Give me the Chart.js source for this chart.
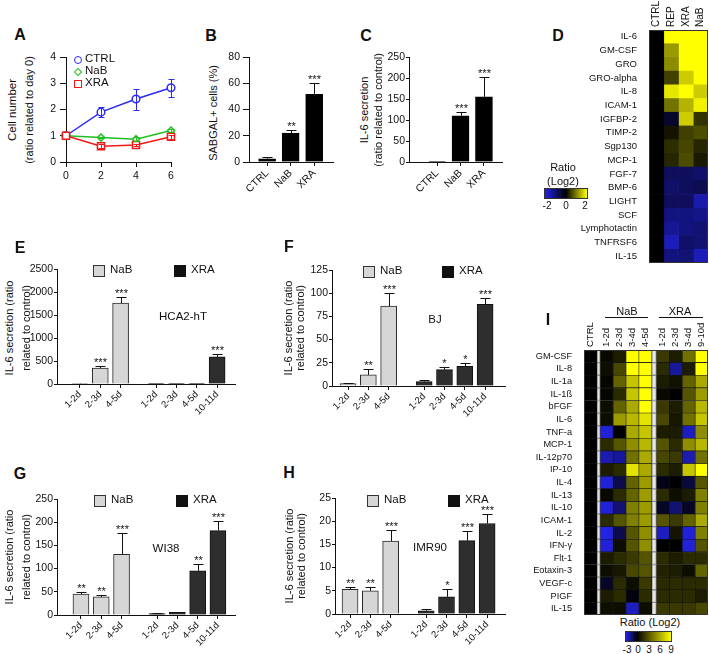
<!DOCTYPE html>
<html>
<head>
<meta charset="utf-8">
<script src="https://cdn.jsdelivr.net/npm/chart.js@4.4.1/dist/chart.umd.min.js"></script>
<style>
  html, body { margin: 0; padding: 0; background: #fff; }
  #fig { position: relative; width: 709px; height: 654px; overflow: hidden;
         font-family: 'Liberation Sans', Arial, sans-serif; color: #111; }
  #fig canvas { position: absolute; }
  .t { position: absolute; white-space: nowrap; font-size: 11px; line-height: 1; }
  .letter { font-size: 16px; font-weight: bold; }
</style>
</head>
<body>
<div id="fig"></div>
<script>
// A: 세포 수 (day 0 대비)
const days = [0, 2, 4, 6];
const ctrlGrowth = [1, 1.9, 2.4, 2.83];
const ctrlGrowthErr = [0, 0.2, 0.4, 0.35];
const nabGrowth = [1, 0.93, 0.87, 1.2];
const nabGrowthErr = [0, 0.03, 0.07, 0.05];
const xraGrowth = [1, 0.6, 0.65, 0.96];
const xraGrowthErr = [0, 0.07, 0.05, 0.07];

// B, C
const treatLabels = ['CTRL', 'NaB', 'XRA'];
const sabgal = [2.5, 22, 51.5];
const sabgalErr = [1.2, 2.5, 9];
const sabgalStars = ['', '**', '***'];
const il6 = [1, 110, 155];
const il6Err = [0, 10, 47];
const il6Stars = ['', '***', '***'];

// D: 히트맵 (log2 ratio)
const dRows = ['IL-6', 'GM-CSF', 'GRO', 'GRO-alpha', 'IL-8', 'ICAM-1', 'IGFBP-2', 'TIMP-2', 'Sgp130',
  'MCP-1', 'FGF-7', 'BMP-6', 'LIGHT', 'SCF', 'Lymphotactin', 'TNFRSF6', 'IL-15'];
const dCols = ['CTRL', 'REP', 'XRA', 'NaB'];
const dCtrl = [0, 0, 0, 0, 0, 0, 0, 0, 0, 0, 0, 0, 0, 0, 0, 0, 0];
const dRep = [2, 1.2, 1.1, 0.5, 1.8, 0.9, -0.4, 0.15, 0.35, 0.3, -0.8, -0.9, -0.8, -1.1, -1.3, -1.6, -1.1];
const dXra = [2, 2, 2, 1.6, 2, 1.4, 1.6, 0.5, 0.55, 0.6, -0.8, -0.8, -0.8, -1.1, -1.1, -0.9, -1.0];
const dNab = [2, 2, 2, 2, 1.6, 1.9, 0.4, 0.6, 0.3, 0.2, -0.9, -0.7, -1.5, -1.2, -1.0, -1.0, -1.6];

// E-H: IL-6 분비 시간 경과
const nabTimes = ['1-2d', '2-3d', '4-5d'];
const xraTimes = ['1-2d', '2-3d', '4-5d', '10-11d'];
const hcaNab = [5, 345, 1760];
const hcaNabErr = [2, 40, 130];
const hcaNabStars = ['', '***', '***'];
const hcaXra = [2, 2, 4, 590];
const hcaXraErr = [0, 0, 0, 55];
const hcaXraStars = ['', '', '', '***'];
const bjNab = [2.5, 12, 86];
const bjNabErr = [1, 6, 14.5];
const bjNabStars = ['', '**', '***'];
const bjXra = [4.8, 17.6, 21.3, 88];
const bjXraErr = [1.8, 3, 3.5, 7];
const bjXraStars = ['', '*', '*', '***'];
const wiNab = [45, 39, 131];
const wiNabErr = [4, 5, 45];
const wiNabStars = ['**', '**', '***'];
const wiXra = [3, 5.5, 95, 182];
const wiXraErr = [1, 1.5, 14, 21];
const wiXraStars = ['', '', '**', '***'];
const imrNab = [5.3, 5.0, 15.7];
const imrNabErr = [0.6, 0.8, 2.5];
const imrNabStars = ['**', '**', '***'];
const imrXra = [0.7, 3.7, 15.8, 19.5];
const imrXraErr = [0.3, 1.7, 2.1, 2];
const imrXraStars = ['', '*', '***', '***'];

// I: 히트맵 (log2 ratio)
const iRows = ['GM-CSF', 'IL-8', 'IL-1a', 'IL-1ß', 'bFGF', 'IL-6', 'TNF-a', 'MCP-1', 'IL-12p70', 'IP-10',
  'IL-4', 'IL-13', 'IL-10', 'ICAM-1', 'IL-2', 'IFN-γ', 'Flt-1', 'Eotaxin-3', 'VEGF-c', 'PIGF', 'IL-15'];
const iNabTimes = ['1-2d', '2-3d', '3-4d', '4-5d'];
const iXraTimes = ['1-2d', '2-3d', '3-4d', '9-10d'];
const iCtrl = [0, 0, 0, 0, 0, 0, 0, 0, 0, 0, 0, 0, 0, 0, 0, 0, 0, 0, 0, 0, 0];
const iNab = [
  [0.3, 0.5, 0.2, 0.2, 0.5, 0.5, -2.8, 1.5, -2.3, 1, -2.8, 0.3, -2.8, 1.5, -3, -2.8, 1, 0.5, -0.5, 1, 0.5],
  [1, 2.5, 3.5, 1.5, 3.5, 5.5, 0, 3, -2, 1.5, -1, 1.5, -1.5, 3, -1, 0.5, 1.5, 0.8, 1.5, 1.5, 0.5],
  [9, 9, 7, 7, 6, 6.5, 6, 5, 4, 8, 3.5, 3.5, 4.5, 4.5, 3, 3, 2, 2.5, 0.5, -0.2, -2.5],
  [9, 9, 9, 9, 9, 8, 7, 6.5, 6, 6, 5.5, 5.5, 5.5, 5.5, 5, 5, 3, 3, 2, 1.5, 0.5]
];
const iXra = [
  [2, 1.5, 1, 0.3, 2, 2.5, 1, 3, 2.5, 1.5, -0.3, 1.5, -0.5, 3, -2.5, 0, 1.5, 1.2, 1.5, 1.5, 2],
  [1, -2, 0.6, 0, 1, 0.8, 1, 1.5, 2, 1, 0, 0.5, -1.5, 2, 0.7, 0, 1, 1, 1.5, 1.5, 2],
  [4, 1, 3.5, 3, 3.5, 4, -2.5, 5, -2.3, 7, -0.8, 1, -0.5, 3.5, -2.8, -2.8, 1.5, 0.5, 1.5, 1.5, 2],
  [9, 9, 6, 5.5, 6.5, 7, 5, 6.5, 4, 9, 3, 4.5, 4.5, 6, 4.5, 3, 1.5, 3.5, 1.5, 1, 2.5]
];

const FONT = "'Liberation Sans', Arial, sans-serif";
Chart.defaults.font.family = FONT;
Chart.defaults.font.size = 10.5;
Chart.defaults.color = '#111';
Chart.defaults.animation = false;
Chart.defaults.responsive = false;
Chart.defaults.devicePixelRatio = 1;
Chart.defaults.plugins.legend.display = false;
Chart.defaults.plugins.tooltip.enabled = false;

const fig = document.getElementById('fig');

// 텍스트 배치 (중심 기준)
const text = (str, x, y, opt = {}) => {
  const d = document.createElement('div');
  d.className = 't' + (opt.cls ? ' ' + opt.cls : '');
  d.textContent = str;
  d.style.left = x + 'px';
  d.style.top = y + 'px';
  d.style.transform = `translate(${opt.left ? '0' : '-50%'}, -50%)` + (opt.rot ? ' rotate(-90deg)' : '');
  if (opt.size) d.style.fontSize = opt.size + 'px';
  fig.appendChild(d);
  return d;
};
const shape = (x, y, css) => {
  const d = document.createElement('div');
  d.style.cssText = `position:absolute;left:${x}px;top:${y}px;box-sizing:border-box;` + css;
  fig.appendChild(d);
};

// 차트 영역을 원하는 위치에 맞춰 캔버스 생성
const place = (area, yW, xH, pt, pr) => {
  const c = document.createElement('canvas');
  const w = Math.round(area[2] - area[0] + yW + pr);
  const h = Math.round(area[3] - area[1] + pt + xH);
  c.width = w; c.height = h;
  c.style.width = w + 'px'; c.style.height = h + 'px';
  c.style.left = (area[0] - yW) + 'px';
  c.style.top = (area[1] - pt) + 'px';
  fig.appendChild(c);
  return { canvas: c, padding: { top: pt, right: pr, left: 0, bottom: 0 } };
};

// 에러바 + 유의성 별표
const errorBars = {
  id: 'errorBars',
  afterDatasetsDraw(chart, args, opts) {
    const { ctx } = chart;
    chart.data.datasets.forEach((ds, di) => {
      if (!ds.errors) return;
      const meta = chart.getDatasetMeta(di);
      const ys = chart.scales[meta.yAxisID];
      ctx.save();
      ctx.strokeStyle = ds.errColor || '#111';
      ctx.fillStyle = '#111';
      ctx.lineWidth = 1;
      ctx.font = `11px ${FONT}`;
      ctx.textAlign = 'center';
      ctx.textBaseline = 'alphabetic';
      meta.data.forEach((el, i) => {
        const v = ds.data[i].y, e = ds.errors[i];
        const x = Math.round(el.x) + 0.5;
        const top = Math.round(ys.getPixelForValue(v + e)) + 0.5;
        const bot = ds.bothWays ? Math.round(ys.getPixelForValue(v - e)) + 0.5 : el.y;
        const cap = opts.cap;
        if (e > 0) {
          ctx.beginPath();
          ctx.moveTo(x, bot); ctx.lineTo(x, top);
          ctx.moveTo(x - cap, top); ctx.lineTo(x + cap, top);
          if (ds.bothWays) { ctx.moveTo(x - cap, bot); ctx.lineTo(x + cap, bot); }
          ctx.stroke();
        }
        const s = ds.stars && ds.stars[i];
        if (s) ctx.fillText(s, x, Math.min(top, el.y) - 1);
      });
      ctx.restore();
    });
  }
};

// 히트맵 열 제목 (세로 회전)
const colHeads = {
  id: 'colHeads',
  afterDraw(chart, args, opts) {
    const { ctx, chartArea } = chart;
    ctx.save();
    ctx.font = `${opts.size}px ${FONT}`;
    ctx.fillStyle = '#111';
    ctx.textAlign = 'left';
    ctx.textBaseline = 'middle';
    chart.data.datasets.forEach((ds, i) => {
      if (!ds.head) return;
      const el = chart.getDatasetMeta(i).data[0];
      ctx.save();
      ctx.translate((el.x + el.base) / 2, chartArea.top - 3);
      ctx.rotate(-Math.PI / 2);
      ctx.fillText(ds.head, 0, 0);
      ctx.restore();
    });
    // 외곽선
    ctx.strokeStyle = '#333';
    ctx.lineWidth = 1;
    ctx.strokeRect(chartArea.left + 0.5, chartArea.top + 0.5, chartArea.width - 1, chartArea.height - 1);
    ctx.restore();
  }
};

const grid = tl => ({ drawOnChartArea: false, color: '#111', tickLength: tl, lineWidth: 1, offset: false });
const yLinear = (max, step, w, tl, pad) => ({
  min: 0, max,
  grid: grid(tl),
  border: { color: '#111', width: 1 },
  ticks: { stepSize: step, padding: pad, callback: v => String(v) },
  afterFit: s => { s.width = w; s.paddingTop = 0; s.paddingBottom = 0; }
});
const xLinear = (min, max, step, h) => ({
  type: 'linear', min, max,
  grid: grid(5),
  border: { color: '#111', width: 1 },
  ticks: { stepSize: step, padding: 3, callback: v => String(v) },
  afterFit: s => { s.height = h; s.paddingLeft = 0; s.paddingRight = 0; }
});
const slotAxis = (positions, names, min, max, h, size) => ({
  type: 'linear', min, max, offset: false,
  grid: grid(4),
  border: { color: '#111', width: 1 },
  afterBuildTicks: s => { s.ticks = positions.map(v => ({ value: v })); },
  ticks: { autoSkip: false, minRotation: 45, maxRotation: 45, padding: 1, font: { size },
    callback: (v, i) => names[i] },
  afterFit: s => { s.height = h; s.paddingLeft = 0; s.paddingRight = 0; }
});

const barSet = (pos, vals, errs, stars, fill, line, thick) => ({
  data: pos.map((x, i) => ({ x, y: vals[i] })),
  errors: errs, stars,
  backgroundColor: fill, borderColor: line, borderWidth: 1,
  barThickness: thick, grouped: false
});

// ---------- A ----------
const growthSet = (vals, errs, color, style, r) => ({
  data: days.map((d, i) => ({ x: d, y: vals[i] })),
  errors: errs, bothWays: true, errColor: color,
  borderColor: color, borderWidth: 1.5, backgroundColor: '#fff',
  pointStyle: style, pointRadius: r, pointBorderWidth: 1.5, pointBackgroundColor: '#fff',
  clip: false
});
{
  const p = place([65.5, 57, 170, 162], 26, 22, 8, 10);
  new Chart(p.canvas, {
    type: 'line',
    data: { datasets: [
      growthSet(xraGrowth, xraGrowthErr, '#f01818', 'rect', 5),
      growthSet(nabGrowth, nabGrowthErr, '#1fbf1f', 'rectRot', 3.5),
      growthSet(ctrlGrowth, ctrlGrowthErr, '#2b2bf5', 'circle', 3.8)
    ]},
    options: {
      layout: { padding: p.padding },
      scales: { x: xLinear(0, 6, 2, 22), y: yLinear(4, 1, 26, 6, 4) },
      plugins: { errorBars: { cap: 3 } }
    },
    plugins: [errorBars]
  });
}

// ---------- B, C ----------
const treatBars = (area, vals, errs, stars, yMax, yStep, xMin, xMax, tl, pad) => {
  const pos = treatLabels.map((_, i) => i);
  const p = place(area, 30, 40, 22, 6);
  new Chart(p.canvas, {
    type: 'bar',
    data: { datasets: [barSet(pos, vals, errs, stars, '#000', '#000', 17)] },
    options: {
      layout: { padding: p.padding },
      scales: { x: slotAxis(pos, treatLabels, xMin, xMax, 40, 10.5), y: yLinear(yMax, yStep, 30, tl, pad) },
      plugins: { errorBars: { cap: 5 } }
    },
    plugins: [errorBars]
  });
};
treatBars([249, 57, 333, 162], sabgal, sabgalErr, sabgalStars, 80, 20, -0.77, 2.8, 6, 3);
treatBars([409, 57, 502, 162], il6, il6Err, il6Stars, 250, 50, -1.2, 2.77, 3, 1);

// ---------- E-H ----------
const GROUP_GAP = 0.75;
const timeBars = (area, yMax, yStep, xMin, xMax, nab, nabErr, nabStars, xra, xraErr, xraStars) => {
  const nabPos = nabTimes.map((_, i) => i);
  const xraPos = xraTimes.map((_, i) => nabTimes.length + GROUP_GAP + i);
  const p = place(area, 34, 44, 16, 6);
  new Chart(p.canvas, {
    type: 'bar',
    data: { datasets: [
      barSet(nabPos, nab, nabErr, nabStars, '#d6d6d6', '#2a2a2a', 16),
      barSet(xraPos, xra, xraErr, xraStars, '#2e2e2e', '#111', 16)
    ]},
    options: {
      layout: { padding: p.padding },
      scales: {
        x: slotAxis(nabPos.concat(xraPos), nabTimes.concat(xraTimes), xMin, xMax, 44, 9.5),
        y: yLinear(yMax, yStep, 34, 3, 1)
      },
      plugins: { errorBars: { cap: 5 } }
    },
    plugins: [errorBars]
  });
};
timeBars([57, 269, 235, 384], 2500, 500, -1.13, 7.63, hcaNab, hcaNabErr, hcaNabStars, hcaXra, hcaXraErr, hcaXraStars);
timeBars([332, 270, 505, 386], 125, 25, -0.79, 7.73, bjNab, bjNabErr, bjNabStars, bjXra, bjXraErr, bjXraStars);
timeBars([57, 499, 235, 615], 250, 50, -1.18, 7.59, wiNab, wiNabErr, wiNabStars, wiXra, wiXraErr, wiXraStars);
timeBars([335, 498, 505, 614], 25, 5, -0.74, 7.63, imrNab, imrNabErr, imrNabStars, imrXra, imrXraErr, imrXraStars);

// ---------- 히트맵 ----------
const BLUE = [35, 35, 230];
const heatColor = (lo, hi) => v => {
  if (v >= 0) {
    const t = Math.min(v / hi, 1);
    return `rgb(${Math.round(255 * t)},${Math.round(255 * t)},0)`;
  }
  const t = Math.min(v / lo, 1);
  return `rgb(${BLUE.map(c => Math.round(c * t)).join(',')})`;
};

const heatmap = (area, yW, pt, rows, columns, colorFn, cell, headSize, tickSize) => {
  const total = columns.reduce((s, c) => s + (c.spacer || 1), 0);
  const p = place(area, yW, 2, pt, 1);
  const datasets = columns.map(c => c.spacer ? {
    data: rows.map(() => c.spacer),
    backgroundColor: '#e6e6e6', borderColor: '#8a8a8a', borderWidth: 1, borderSkipped: false,
    barPercentage: 1, categoryPercentage: 1
  } : {
    data: rows.map(() => 1), head: c.head,
    backgroundColor: c.values.map(colorFn), borderColor: cell.color, borderWidth: cell.width,
    borderSkipped: false, barPercentage: 1, categoryPercentage: 1
  });
  new Chart(p.canvas, {
    type: 'bar',
    data: { labels: rows, datasets },
    options: {
      indexAxis: 'y',
      layout: { padding: p.padding },
      scales: {
        x: { stacked: true, min: 0, max: total, display: false },
        y: { stacked: true, grid: { display: false }, border: { display: false },
             ticks: { autoSkip: false, padding: 4, font: { size: tickSize } },
             afterFit: s => { s.width = yW; s.paddingTop = 0; s.paddingBottom = 0; } }
      },
      plugins: { colHeads: { size: headSize } }
    },
    plugins: [colHeads]
  });
};

heatmap([649, 30, 708, 261], 75, 30, dRows,
  [dCtrl, dRep, dXra, dNab].map((values, i) => ({ head: dCols[i], values })),
  heatColor(-2, 2), { color: 'rgba(0,0,0,0)', width: 0 }, 10, 9.5);

heatmap([584, 350, 708, 613], 55, 35, iRows,
  [{ head: 'CTRL', values: iCtrl }, { spacer: 0.25 }]
    .concat(iNab.map((values, i) => ({ head: iNabTimes[i], values })))
    .concat([{ spacer: 0.35 }])
    .concat(iXra.map((values, i) => ({ head: iXraTimes[i], values }))),
  heatColor(-3, 9), { color: '#141414', width: 0.6 }, 9.5, 9.2);

// ---------- 텍스트 / 범례 ----------
const letters = [['A', 20, 35], ['B', 211, 36], ['C', 366, 36], ['D', 558, 36], ['E', 20, 248],
  ['F', 289, 247], ['G', 20, 474], ['H', 289, 473], ['I', 548, 320]];
letters.forEach(([s, x, y]) => text(s, x, y, { cls: 'letter' }));

text('Cell number', 13, 110, { rot: true, size: 11.5 });
text('(ratio related to day 0)', 29, 110, { rot: true, size: 11 });
text('SABGAL+ cells (%)', 213, 113, { rot: true, size: 11 });
text('IL-6 secretion', 364, 110, { rot: true, size: 11 });
text('(ratio related to control)', 378, 110, { rot: true, size: 11 });

shape(73.5, 55.5, 'width:8px;height:8px;border:1.5px solid #2b2bf5;border-radius:50%;background:#fff;');
shape(74.5, 68.5, 'width:6px;height:6px;border:1.5px solid #1fbf1f;transform:rotate(45deg);background:#fff;');
shape(73.5, 79.5, 'width:8px;height:8px;border:1.5px solid #f01818;background:#fff;');
text('CTRL', 85, 59, { left: true, size: 11.5 });
text('NaB', 85, 71, { left: true, size: 11.5 });
text('XRA', 85, 83, { left: true, size: 11.5 });

// 패널 E-H 공통 범례 / 제목
const timeLegend = (nx, xx, y, tx, ty, title) => {
  shape(nx, y - 5.5, 'width:12px;height:12px;border:1px solid #333;background:#d6d6d6;');
  text('NaB', nx + 17, y, { left: true, size: 11.5 });
  shape(xx, y - 5.5, 'width:12px;height:12px;border:1px solid #111;background:#111;');
  text('XRA', xx + 17, y, { left: true, size: 11.5 });
  text(title, tx, ty, { size: 11.5 });
};
timeLegend(93, 174, 270, 183, 317, 'HCA2-hT');
timeLegend(363, 442, 271, 435, 320, 'BJ');
timeLegend(94, 176, 500, 166, 549, 'WI38');
timeLegend(367, 448, 500, 430, 548, 'IMR90');

[[9, 26, 328], [288, 300, 328], [9, 26, 557], [289, 301, 556]].forEach(([x1, x2, y]) => {
  text('IL-6 secretion (ratio', x1, y, { rot: true, size: 11 });
  text('related to control)', x2, y, { rot: true, size: 11 });
});

// D 색상 범례
text('Ratio', 563, 167, { size: 11 });
text('(Log2)', 563, 181, { size: 11 });
shape(544, 188, 'width:44px;height:11px;border:1px solid #333;' +
  `background:linear-gradient(to right, rgb(${BLUE}), #000 50%, #ff0);`);
text('-2', 547, 206, { size: 10 });
text('0', 566, 206, { size: 10 });
text('2', 585, 206, { size: 10 });

// I 그룹 라벨 / 색상 범례
text('NaB', 627, 311, { size: 11 });
shape(605, 317, 'width:43px;height:1px;background:#111;');
text('XRA', 680, 311, { size: 11 });
shape(659, 317, 'width:44px;height:1px;background:#111;');
text('Ratio (Log2)', 650, 622, { size: 11 });
shape(625, 631, 'width:47px;height:11px;border:1px solid #333;' +
  `background:linear-gradient(to right, rgb(${BLUE}), #000 25%, #ff0);`);
[['-3', 627], ['0', 638], ['3', 649], ['6', 660], ['9', 671]].forEach(([s, x]) => text(s, x, 650, { size: 10 }));
</script>
</body>
</html>
